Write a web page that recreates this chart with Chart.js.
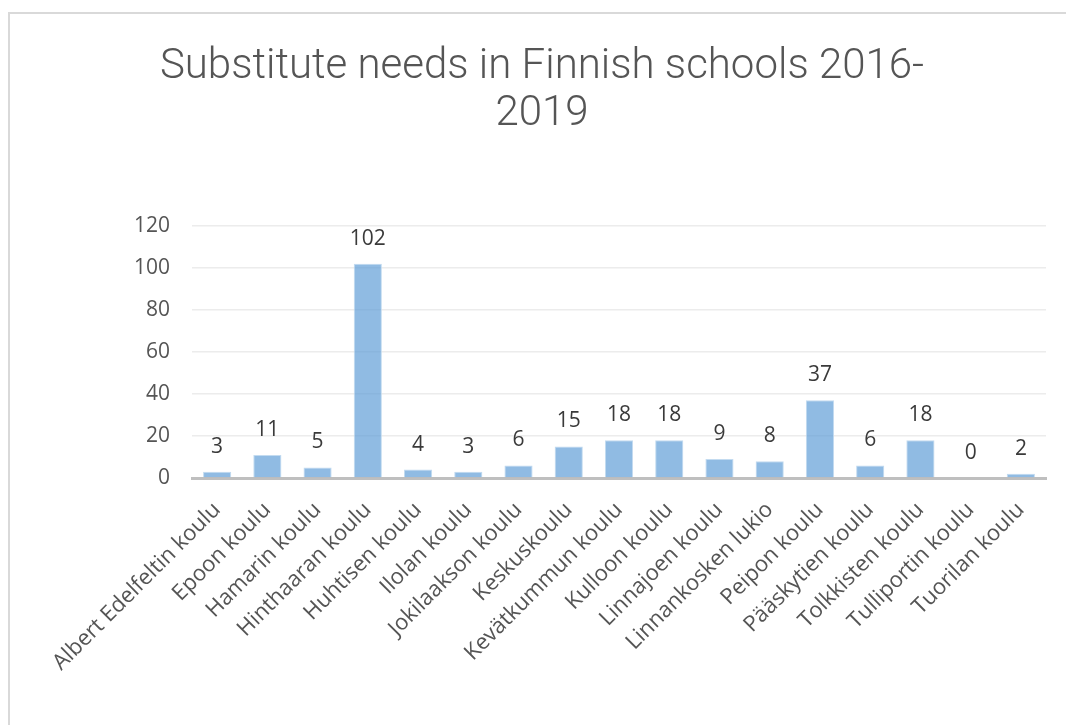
<!DOCTYPE html>
<html>
<head>
<meta charset="utf-8">
<script src="https://cdn.jsdelivr.net/npm/chart.js@4.4.1/dist/chart.umd.min.js"></script>
<style>
  html, body { margin: 0; padding: 0; background: #fff; }
  #wrap { position: relative; width: 1066px; height: 725px; overflow: hidden; }
  #frame {
    position: absolute; left: 8px; top: 12px; right: -10px; bottom: -10px;
    border-top: 2px solid #d9d9d9; border-left: 2px solid #d9d9d9;
    pointer-events: none;
  }
  canvas { position: absolute; left: 0; top: 0; }
</style>
</head>
<body>
<div id="wrap">
  <canvas id="chart" width="1066" height="725"></canvas>
  <div id="frame"></div>
</div>
<script>
// ---------------------------------------------------------------------------
// Data
// ---------------------------------------------------------------------------
const schools = [
    "Albert Edelfeltin koulu", "Epoon koulu", "Hamarin koulu",
    "Hinthaaran koulu", "Huhtisen koulu", "Ilolan koulu",
    "Jokilaakson koulu", "Keskuskoulu", "Kevätkummun koulu",
    "Kulloon koulu", "Linnajoen koulu", "Linnankosken lukio",
    "Peipon koulu", "Pääskytien koulu", "Tolkkisten koulu",
    "Tulliportin koulu", "Tuorilan koulu",
];
const substituteNeeds = [3, 11, 5, 102, 4, 3, 6, 15, 18, 18, 9, 8, 37, 6, 18, 0, 2];
const titleLines = ["Substitute needs in Finnish schools 2016-", "2019"];
const yTicks = [0, 20, 40, 60, 80, 100, 120];

// ---------------------------------------------------------------------------
// Styling
// ---------------------------------------------------------------------------
const FONT = "'Open Sans', 'DejaVu Sans', sans-serif";
const TEXT_GREY = "#555555";

// Value labels drawn above each bar
const valueLabels = {
    id: "valueLabels",
    afterDatasetsDraw(chart) {
        const { ctx } = chart;
        const meta = chart.getDatasetMeta(0);
        ctx.save();
        ctx.font = `21px ${FONT}`;
        ctx.fillStyle = "#3a3a3a";
        ctx.textAlign = "center";
        ctx.textBaseline = "middle";
        meta.data.forEach((bar, i) => {
            ctx.fillText(String(substituteNeeds[i]), bar.x, bar.y - 25);
        });
        ctx.restore();
    },
};

new Chart(document.getElementById("chart"), {
    type: "bar",
    data: {
        labels: schools,
        datasets: [{
            data: substituteNeeds,
            backgroundColor: "rgba(91,155,213,0.68)",
            borderColor: "rgba(189,215,238,0.9)",
            borderWidth: 1,
            barPercentage: 0.56,
            categoryPercentage: 1,
        }],
    },
    options: {
        responsive: false,
        animation: false,
        layout: { padding: { left: 38, right: 20, top: 0, bottom: 0 } },
        plugins: {
            legend: { display: false },
            tooltip: { enabled: false },
            title: {
                display: true,
                text: titleLines,
                color: TEXT_GREY,
                font: { family: "Roboto, " + FONT, size: 42, weight: 300, lineHeight: 1.12 },
                padding: { top: 44, bottom: 88 },
            },
        },
        scales: {
            x: {
                z: 1,
                grid: { display: false, drawTicks: false },
                border: { color: "#bfbfbf", width: 3 },
                ticks: {
                    color: TEXT_GREY,
                    font: { family: FONT, size: 22 },
                    minRotation: 45,
                    maxRotation: 45,
                    autoSkip: false,
                    padding: 19,
                },
                afterFit(scale) { scale.height = 247; },
            },
            y: {
                min: 0,
                max: 120,
                afterBuildTicks(scale) {
                    scale.ticks = yTicks.map(v => ({ value: v }));
                },
                grid: { color: "#ececec", lineWidth: 1.5, drawTicks: false },
                border: { display: false },
                ticks: {
                    color: TEXT_GREY,
                    font: { family: FONT, size: 21 },
                    padding: 22,
                },
                afterFit(scale) { scale.width = 154; },
            },
        },
    },
    plugins: [valueLabels],
});
</script>
</body>
</html>
